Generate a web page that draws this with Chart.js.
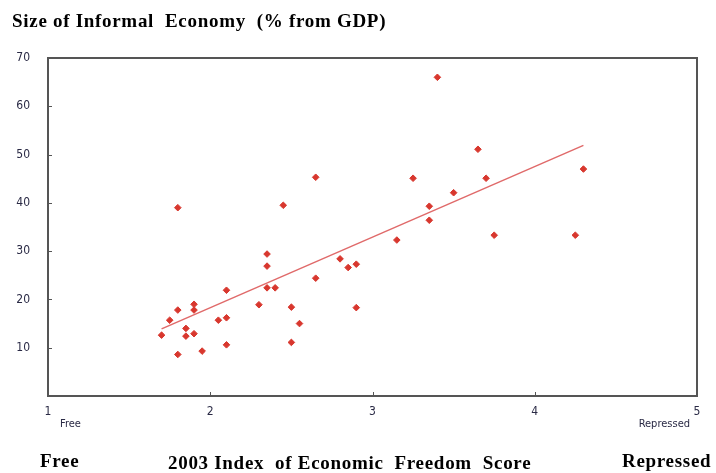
<!DOCTYPE html>
<html>
<head>
<meta charset="utf-8">
<script src="https://cdn.jsdelivr.net/npm/chart.js@4"></script>
<style>
    html, body { margin: 0; padding: 0; background: #fff; }
    #wrap { position: relative; width: 716px; height: 473px; }
    .lbl { position: absolute; font-family: "Liberation Serif", serif; font-weight: bold; font-size: 19px; color: #000; white-space: pre; letter-spacing: 0.7px; }
</style>
</head>
<body>
<div id="wrap">
    <canvas id="scatterChart" width="716" height="473"></canvas>
    <div class="lbl" style="left:12px; top:10px;">Size of Informal  Economy  (% from GDP)</div>
    <div class="lbl" style="left:40px; top:450px;">Free</div>
    <div class="lbl" style="left:168px; top:452px;">2003 Index  of Economic  Freedom  Score</div>
    <div class="lbl" style="left:622px; top:450px;">Repressed</div>
</div>
<script>
// freedom score (x) and informal economy size (y)
const freedomScore = [1.70, 1.75, 1.80, 1.80, 1.80, 1.85, 1.85, 1.90, 1.90, 1.90, 1.95, 2.05, 2.10, 2.10, 2.10,
    2.30, 2.35, 2.35, 2.35, 2.40, 2.45, 2.50, 2.50, 2.55, 2.65, 2.65, 2.80, 2.85, 2.90, 2.90,
    3.15, 3.25, 3.35, 3.35, 3.40, 3.50, 3.65, 3.70, 3.75, 4.25, 4.30];
const informalSize = [12.6, 15.7, 39.0, 17.8, 8.6, 14.0, 12.4, 19.0, 17.8, 12.9, 9.3, 15.7, 21.9, 16.2, 10.6,
    18.9, 29.4, 26.9, 22.4, 22.4, 39.5, 18.4, 11.1, 15.0, 45.3, 24.4, 28.4, 26.6, 27.3, 18.3,
    32.3, 45.1, 39.3, 36.4, 66.0, 42.1, 51.1, 45.1, 33.3, 33.3, 47.0];
// trend line ends
const trendX = [1.7, 4.3];
const trendY = [13.9, 51.9];
// axis ticks
const xTicks = [1, 2, 3, 4, 5];
const yTicks = [10, 20, 30, 40, 50, 60, 70];

const tickFont = { family: "'DejaVu Sans Condensed', 'Noto Sans', sans-serif", size: 12 };

// box, inward ticks and the Free / Repressed hints
const frame = {
    id: 'frame',
    afterDraw(chart) {
        const ctx = chart.ctx;
        const a = chart.chartArea;
        const xs = chart.scales.x, ys = chart.scales.y;
        ctx.save();
        ctx.strokeStyle = '#555';
        ctx.lineWidth = 2;
        ctx.strokeRect(a.left, a.top, a.right - a.left, a.bottom - a.top);
        ctx.lineWidth = 1;
        ctx.beginPath();
        yTicks.forEach(v => {
            const y = Math.round(ys.getPixelForValue(v)) + 0.5;
            ctx.moveTo(a.left, y); ctx.lineTo(a.left + 4, y);
        });
        xTicks.forEach(v => {
            const x = Math.round(xs.getPixelForValue(v)) + 0.5;
            ctx.moveTo(x, a.bottom); ctx.lineTo(x, a.bottom - 4);
        });
        ctx.stroke();
        ctx.fillStyle = '#2a2a45';
        ctx.font = "11px 'DejaVu Sans Condensed', sans-serif";
        ctx.textBaseline = 'middle';
        ctx.textAlign = 'left';
        ctx.fillText('Free', xs.getPixelForValue(1) + 12, a.bottom + 28);
        ctx.textAlign = 'right';
        ctx.fillText('Repressed', xs.getPixelForValue(5) - 7, a.bottom + 28);
        ctx.restore();
    }
};

new Chart(document.getElementById('scatterChart'), {
    type: 'scatter',
    data: {
        datasets: [
            {
                label: 'Countries',
                data: freedomScore.map((x, i) => ({ x: x, y: informalSize[i] })),
                backgroundColor: '#d8372e',
                borderColor: '#d8372e',
                pointStyle: 'rectRot',
                pointRadius: 3.3,
                pointHoverRadius: 3.3
            },
            {
                label: 'Trend',
                type: 'line',
                data: trendX.map((x, i) => ({ x: x, y: trendY[i] })),
                borderColor: '#e06a6a',
                borderWidth: 1.5,
                pointRadius: 0,
                fill: false
            }
        ]
    },
    options: {
        responsive: false,
        animation: false,
        layout: { padding: { top: 58, right: 19, left: 0, bottom: 0 } },
        plugins: {
            legend: { display: false },
            tooltip: { enabled: false }
        },
        scales: {
            x: {
                type: 'linear',
                min: 1,
                max: 5,
                afterFit: s => { s.height = 77; },
                afterBuildTicks: s => { s.ticks = xTicks.map(v => ({ value: v })); },
                grid: { display: false },
                border: { display: false },
                ticks: { color: '#2a2a45', font: tickFont, padding: 1, maxRotation: 0 }
            },
            y: {
                min: 0,
                max: 70,
                afterFit: s => { s.width = 48; },
                afterBuildTicks: s => { s.ticks = yTicks.map(v => ({ value: v })); },
                grid: { display: false },
                border: { display: false },
                ticks: { color: '#2a2a45', font: tickFont, padding: 10 }
            }
        }
    },
    plugins: [frame]
});
</script>
</body>
</html>
